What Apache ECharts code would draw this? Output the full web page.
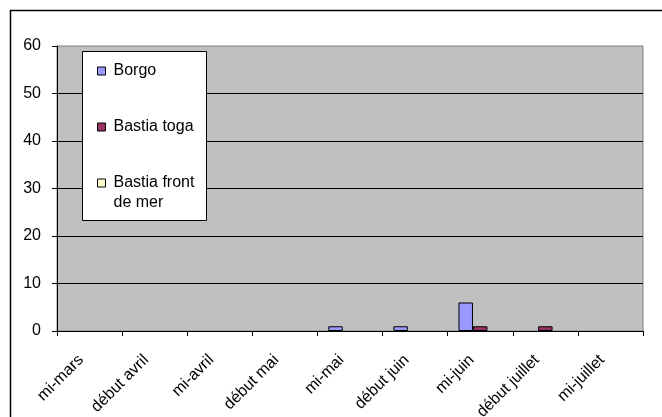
<!DOCTYPE html>
<html>
<head>
<meta charset="utf-8">
<script src="https://cdn.jsdelivr.net/npm/echarts@6/dist/echarts.min.js"></script>
<style>
  html, body { margin: 0; padding: 0; background: #fff; }
  #chart { width: 662px; height: 417px; }
</style>
</head>
<body>
<div id="chart"></div>
<script>
// periods on the x axis
const categories = ['mi-mars', 'début avril', 'mi-avril', 'début mai', 'mi-mai', 'début juin', 'mi-juin', 'début juillet', 'mi-juillet'];
const seriesNames = ['Borgo', 'Bastia toga', 'Bastia front\nde mer'];
const borgo = [0, 0, 0, 0, 1, 1, 6, 0, 0];
const bastiaToga = [0, 0, 0, 0, 0, 0, 1, 1, 0];
const bastiaFront = [0, 0, 0, 0, 0, 0, 0, 0, 0];
const yTicks = [0, 10, 20, 30, 40, 50, 60];

const colors = ['#9999ff', '#993366', '#ffffcc'];
const font = 'Liberation Sans, Arial, sans-serif';
const textBase = { fontSize: 16, color: '#000', fontFamily: font, lineHeight: 20 };

const chart = echarts.init(document.getElementById('chart'));

function bar(name, data) {
  return {
    name: name,
    type: 'bar',
    barWidth: 14.5,
    barGap: '0%',
    itemStyle: { borderColor: '#000', borderWidth: 1 },
    // excel draws nothing for an empty bar, so 0 -> no mark
    data: data.map(v => (v === 0 ? null : v)),
  };
}

chart.setOption({
  animation: false,
  color: colors,
  textStyle: { fontFamily: font },
  graphic: [
    {
      // chart area frame
      type: 'rect',
      shape: { x: 10.5, y: 10.5, width: 700, height: 500 },
      style: { fill: 'none', stroke: '#000', lineWidth: 1.5 },
      z: 100,
    },
    {
      // legend box
      type: 'rect',
      shape: { x: 82.5, y: 51.5, width: 124, height: 169 },
      style: { fill: '#fff', stroke: '#000', lineWidth: 1 },
      z: 3,
    },
  ],
  grid: {
    left: 57,
    top: 46,
    right: 19,
    bottom: 86,
    outerBoundsMode: 'none',
    show: true,
    backgroundColor: '#c0c0c0',
    borderColor: '#808080',
    borderWidth: 1,
  },
  legend: {
    orient: 'vertical',
    left: 97,
    top: 41,
    itemWidth: 8,
    itemHeight: 8,
    itemGap: -4,
    padding: 0,
    // every entry padded the same so the square sits on the first line
    textStyle: Object.assign({ padding: [20, 0, 20, 3], rich: { a: textBase } }, textBase),
    itemStyle: { borderColor: '#000', borderWidth: 1 },
    formatter: function (name) {
      return name.split('\n').map(s => '{a|' + s + '}').join('\n');
    },
    data: [
      { name: seriesNames[0], icon: 'rect' },
      { name: seriesNames[1], icon: 'rect' },
      { name: seriesNames[2], icon: 'rect', textStyle: { padding: [20, 0, 0, 3] } },
    ],
  },
  xAxis: {
    type: 'category',
    data: categories,
    axisLine: { lineStyle: { color: '#000', width: 1 } },
    axisTick: { show: true, interval: 0, length: 5, lineStyle: { color: '#000' } },
    axisLabel: {
      interval: 0,
      rotate: 45,
      margin: 18,
      padding: [0, 12, 0, 0],
      fontSize: 16,
      color: '#000',
      fontFamily: font,
    },
  },
  yAxis: {
    type: 'value',
    min: yTicks[0],
    max: yTicks[yTicks.length - 1],
    interval: 10,
    axisLine: { show: true, lineStyle: { color: '#000', width: 1 } },
    axisTick: { show: true, length: 5, lineStyle: { color: '#000' } },
    axisLabel: { margin: 16, fontSize: 16, color: '#000', fontFamily: font },
    splitLine: { show: true, showMaxLine: false, lineStyle: { color: '#000', width: 1 } },
  },
  series: [
    bar(seriesNames[0], borgo),
    bar(seriesNames[1], bastiaToga),
    bar(seriesNames[2], bastiaFront),
  ],
});
</script>
</body>
</html>
